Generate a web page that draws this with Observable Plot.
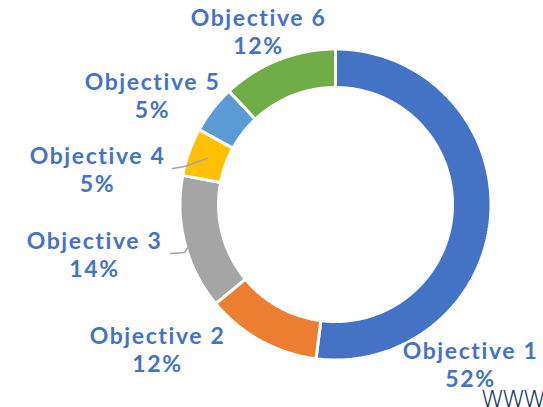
<!DOCTYPE html>
<html>
<head>
<meta charset="utf-8">
<script src="https://cdn.jsdelivr.net/npm/d3@7"></script>
<script src="https://cdn.jsdelivr.net/npm/@observablehq/plot@0.6"></script>
<style>
  html, body { margin: 0; padding: 0; background: #fff; overflow: hidden; }
  #chart { width: 543px; height: 407px; }
</style>
</head>
<body>
<div id="chart"></div>
<script>
// ---- data ----
const categories = ["Objective 1", "Objective 2", "Objective 3", "Objective 4", "Objective 5", "Objective 6"];
const values = [52, 12, 14, 5, 5, 12];
const colors = ["#4472C4", "#ED7D31", "#A5A5A5", "#FFC000", "#5B9BD5", "#70AD47"];
const watermark = "www";

// ---- layout ----
const W = 543, H = 407;
const cx = 335, cy = 204, R = 155.5, r = 117;
const labelPos = [[470, 364], [157, 349], [94, 254], [97, 169], [152, 95], [258, 31]];
const leaderFrom = { "Objective 4": [172, 168, 184, 166], "Objective 3": [170, 253, 184, 252] };

const total = d3.sum(values);
const pie = d3.pie().sort(null).value(d => d.value)(categories.map((c, i) => ({name: c, value: values[i]})));

const pt = (a, rad) => [cx + rad * Math.sin(a), cy - rad * Math.cos(a)];
const slicePts = [];
pie.forEach(p => {
  const n = Math.max(8, Math.ceil((p.endAngle - p.startAngle) * 60));
  const ring = [];
  for (let k = 0; k <= n; k++) ring.push(pt(p.startAngle + (p.endAngle - p.startAngle) * k / n, R));
  for (let k = n; k >= 0; k--) ring.push(pt(p.startAngle + (p.endAngle - p.startAngle) * k / n, r));
  ring.push(ring[0]);
  ring.forEach(([x, y]) => slicePts.push({name: p.data.name, x, y}));
});

const labels = pie.map((p, i) => ({
  name: p.data.name,
  text: `${p.data.name}\n${Math.round(p.data.value / total * 100)}%`,
  x: labelPos[i][0], y: labelPos[i][1]
}));

const leaders = [];
pie.forEach(p => {
  const f = leaderFrom[p.data.name];
  if (!f) return;
  const mid = (p.startAngle + p.endAngle) / 2;
  const end = p.data.name === "Objective 4" ? pt(mid, (R + r) / 2) : pt(mid - 0.02, R - 4);
  leaders.push({name: p.data.name, x: f[0], y: f[1]});
  leaders.push({name: p.data.name, x: f[2], y: f[3]});
  leaders.push({name: p.data.name, x: end[0], y: end[1]});
});

const chart = Plot.plot({
  width: W, height: H,
  margin: 0,
  style: {background: "white", overflow: "hidden"},
  x: {domain: [0, W], range: [0, W], axis: null},
  y: {domain: [0, H], range: [0, H], axis: null},
  color: {domain: categories, range: colors},
  marks: [
    Plot.line(slicePts, {x: "x", y: "y", z: "name", fill: "name", stroke: "white", strokeWidth: 3, strokeLinejoin: "miter", curve: "linear"}),
    Plot.line(leaders, {x: "x", y: "y", z: "name", stroke: "#A5A5A5", strokeWidth: 1.5}),
    Plot.text(labels, {x: "x", y: "y", text: "text", fill: "#4472C4", fontSize: 23, fontWeight: "bold",
      fontFamily: "Lato", lineHeight: 28 / 23, textAnchor: "middle", lineAnchor: "middle"}),
    Plot.text([watermark], {x: () => 480, y: () => 406, text: d => d, fill: "#1F3864", fontSize: 30,
      fontFamily: "DejaVu Sans", fontWeight: 200, textAnchor: "start", lineAnchor: "bottom"})
  ]
});
const textGroups = chart.querySelectorAll("g[aria-label='text']");
if (textGroups[0]) textGroups[0].setAttribute("letter-spacing", "1.6");
if (textGroups[1]) textGroups[1].setAttribute("letter-spacing", "-3.5");
document.getElementById("chart").appendChild(chart);
</script>
</body>
</html>
